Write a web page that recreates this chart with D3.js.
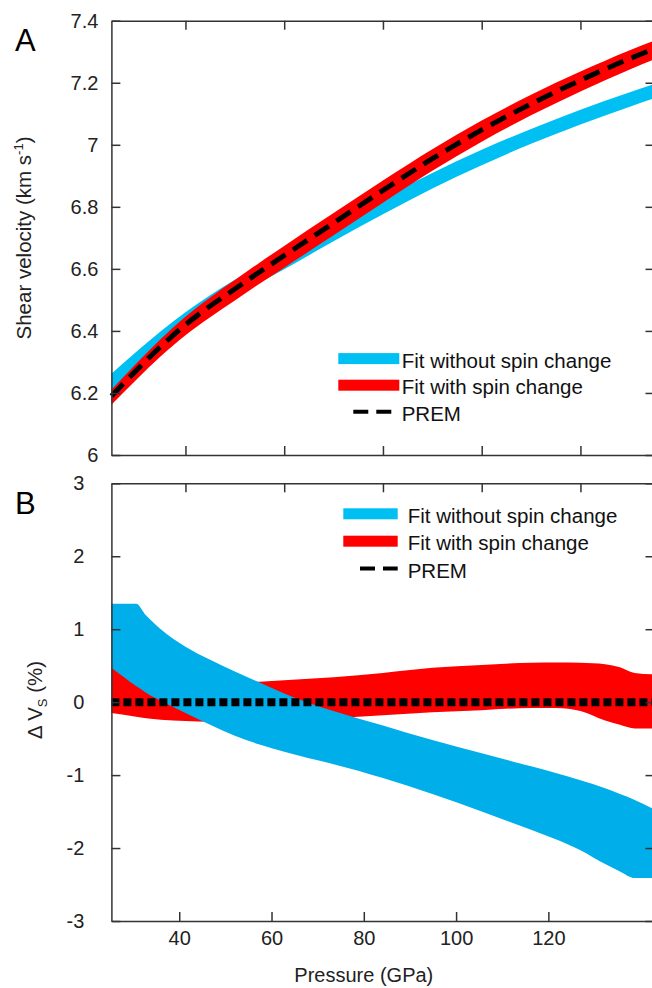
<!DOCTYPE html>
<html>
<head>
<meta charset="utf-8">
<script src="https://cdn.jsdelivr.net/npm/d3@7"></script>
<style>
  body { margin: 0; background: #fff; }
  svg { display: block; font-family: "Liberation Sans", Arial, sans-serif; }
  .eixo path, .eixo line { stroke: #333; stroke-width: 1.5; }
  .eixo text { font-size: 20px; fill: #222; font-family: "Liberation Sans", Arial, sans-serif; }
</style>
</head>
<body>
<svg width="652" height="988"></svg>
<script>
// painel A: velocidade de cisalhamento (km/s) x pressão (GPa)
const pressaoA = [25, 30, 35, 40, 45, 50, 55, 60, 70, 80, 90, 100, 110, 120, 130, 135];
const premA    = [6.19, 6.272, 6.35, 6.42, 6.48, 6.535, 6.59, 6.643, 6.748, 6.853, 6.955, 7.048, 7.132, 7.208, 7.278, 7.31];
const comSpinBaixoA = [6.162, 6.242, 6.318, 6.386, 6.444, 6.498, 6.552, 6.604, 6.708, 6.813, 6.916, 7.010, 7.095, 7.172, 7.243, 7.276];
const comSpinAltoA  = [6.210, 6.294, 6.374, 6.446, 6.508, 6.564, 6.62, 6.674, 6.78, 6.885, 6.986, 7.078, 7.161, 7.236, 7.305, 7.336];
const semSpinBaixoA = [6.20, 6.278, 6.345, 6.406, 6.461, 6.511, 6.556, 6.599, 6.689, 6.776, 6.859, 6.934, 7.003, 7.065, 7.123, 7.15];
const semSpinAltoA  = [6.262, 6.332, 6.399, 6.46, 6.515, 6.565, 6.61, 6.653, 6.741, 6.828, 6.909, 6.984, 7.051, 7.113, 7.169, 7.196];

// painel B: desvio em relação ao PREM (%)
const pressaoB = [25, 30, 32, 35, 40, 45, 50, 55, 60, 65, 70, 80, 90, 100, 110, 115, 120, 125, 128, 131, 135];
const semSpinAltoB  = [1.35, 1.35, 1.19, 1.0, 0.76, 0.58, 0.42, 0.27, 0.12, -0.01, -0.12, -0.32, -0.52, -0.7, -0.88, -0.97, -1.07, -1.18, -1.26, -1.34, -1.47];
const semSpinBaixoB = [0.47, 0.22, 0.13, 0.02, -0.15, -0.31, -0.46, -0.58, -0.68, -0.77, -0.85, -1.04, -1.26, -1.5, -1.75, -1.88, -2.03, -2.22, -2.32, -2.41, -2.41];
const comSpinAltoB  = [0.47, 0.38, 0.35, 0.32, 0.28, 0.27, 0.27, 0.28, 0.3, 0.32, 0.34, 0.4, 0.47, 0.51, 0.54, 0.545, 0.54, 0.52, 0.48, 0.40, 0.38];
const comSpinBaixoB = [-0.15, -0.2, -0.22, -0.24, -0.26, -0.27, -0.27, -0.26, -0.25, -0.24, -0.22, -0.18, -0.14, -0.11, -0.08, -0.08, -0.12, -0.25, -0.31, -0.36, -0.36];
const premB = [0, 0, 0, 0, 0, 0, 0, 0, 0, 0, 0, 0, 0, 0, 0, 0, 0, 0, 0, 0, 0];

const ticksVelA = [6, 6.2, 6.4, 6.6, 6.8, 7, 7.2, 7.4];
const ticksDeltaB = [-3, -2, -1, 0, 1, 2, 3];
const ticksPressao = [40, 60, 80, 100, 120];
const legenda = ['Fit without spin change', 'Fit with spin change', 'PREM'];

const azul = '#00bff3';
const azulB = '#00aeea';
const vermelho = '#ff0000';

const svg = d3.select('svg');
const esq = 111.4, dir = 654.5;

const xEscala = d3.scaleLinear().domain([25, 135]).range([esq, dir]);
// o eixo de baixo do painel B tem marcas com espaçamento diferente
const xEscalaBaixo = d3.scaleLinear().domain([25.3, 143]).range([esq, dir]);

const yA = d3.scaleLinear().domain([6, 7.4]).range([455, 20.7]);
const yB = d3.scaleLinear().domain([-3, 3]).range([921, 483.3]);

const faixa = (x, y) => d3.area()
    .x(d => x(d.p))
    .y0(d => y(d.lo))
    .y1(d => y(d.hi))
    .curve(d3.curveMonotoneX);

const linha = (x, y) => d3.line()
    .x(d => x(d.p))
    .y(d => y(d.v))
    .curve(d3.curveMonotoneX);

const juntaFaixa = (ps, lo, hi) => ps.map((p, i) => ({p: p, lo: lo[i], hi: hi[i]}));
const juntaLinha = (ps, vs) => ps.map((p, i) => ({p: p, v: vs[i]}));

// ---- painel A
const gA = svg.append('g');
gA.append('path')
    .attr('d', faixa(xEscala, yA)(juntaFaixa(pressaoA, semSpinBaixoA, semSpinAltoA)))
    .attr('fill', azul);
gA.append('path')
    .attr('d', faixa(xEscala, yA)(juntaFaixa(pressaoA, comSpinBaixoA, comSpinAltoA)))
    .attr('fill', vermelho);
gA.append('path')
    .attr('d', linha(xEscala, yA)(juntaLinha(pressaoA, premA)))
    .attr('fill', 'none')
    .attr('stroke', '#000')
    .attr('stroke-width', 5)
    .attr('stroke-dasharray', '17,9');

const fmtVel = d => String(+d.toFixed(1));
const fmtDelta = d => String(d);

gA.append('g').attr('class', 'eixo')
    .attr('transform', `translate(${esq},0)`)
    .call(d3.axisLeft(yA).tickValues(ticksVelA).tickFormat(fmtVel).tickSize(-9).tickSizeOuter(0).tickPadding(13));
gA.append('g').attr('class', 'eixo')
    .attr('transform', `translate(${dir},0)`)
    .call(d3.axisRight(yA).tickValues(ticksVelA).tickFormat('').tickSize(-9).tickSizeOuter(0));
gA.append('g').attr('class', 'eixo')
    .attr('transform', `translate(0,${yA(7.4)})`)
    .call(d3.axisTop(xEscala).tickValues(ticksPressao).tickFormat('').tickSize(-9).tickSizeOuter(0));
gA.append('g').attr('class', 'eixo')
    .attr('transform', `translate(0,${yA(6)})`)
    .call(d3.axisBottom(xEscala).tickValues(ticksPressao).tickFormat('').tickSize(-9).tickSizeOuter(0));

// ---- painel B
const gB = svg.append('g');
gB.append('path')
    .attr('d', faixa(xEscala, yB)(juntaFaixa(pressaoB, comSpinBaixoB, comSpinAltoB)))
    .attr('fill', vermelho);
gB.append('path')
    .attr('d', faixa(xEscala, yB)(juntaFaixa(pressaoB, semSpinBaixoB, semSpinAltoB)))
    .attr('fill', azulB);
gB.append('path')
    .attr('d', linha(xEscala, yB)(juntaLinha(pressaoB, premB)))
    .attr('fill', 'none')
    .attr('stroke', '#000')
    .attr('stroke-width', 8)
    .attr('stroke-dasharray', '8,4');

gB.append('g').attr('class', 'eixo')
    .attr('transform', `translate(${esq},0)`)
    .call(d3.axisLeft(yB).tickValues(ticksDeltaB).tickFormat(fmtDelta).tickSize(-9).tickSizeOuter(0).tickPadding(27));
gB.append('g').attr('class', 'eixo')
    .attr('transform', `translate(${dir},0)`)
    .call(d3.axisRight(yB).tickValues(ticksDeltaB).tickFormat('').tickSize(-9).tickSizeOuter(0));
gB.append('g').attr('class', 'eixo')
    .attr('transform', `translate(0,${yB(3)})`)
    .call(d3.axisTop(xEscala).tickValues(ticksPressao).tickFormat('').tickSize(-9).tickSizeOuter(0));
gB.append('g').attr('class', 'eixo')
    .attr('transform', `translate(0,${yB(-3)})`)
    .call(d3.axisBottom(xEscalaBaixo).tickValues(ticksPressao).tickSize(-9).tickSizeOuter(0).tickPadding(10));

// ---- legendas
const desenhaLegenda = (g, xs, x0, x1, xTexto, yCentro, passo) => {
    const cores = [azul, vermelho];
    cores.forEach((c, i) => {
        g.append('rect')
            .attr('x', x0).attr('y', yCentro + i * passo - 5.5)
            .attr('width', x1 - x0).attr('height', 11)
            .attr('fill', c);
    });
    g.append('line')
        .attr('x1', xs).attr('x2', x1)
        .attr('y1', yCentro + 2 * passo).attr('y2', yCentro + 2 * passo)
        .attr('stroke', '#000').attr('stroke-width', 4)
        .attr('stroke-dasharray', '15,8');
    legenda.forEach((t, i) => {
        g.append('text')
            .attr('x', xTexto).attr('y', yCentro + i * passo + 9)
            .attr('font-size', 20.5)
            .attr('fill', '#111')
            .text(t);
    });
};
desenhaLegenda(svg.append('g'), 353.3, 338.3, 399.3, 401.7, 358.6, 26.6);
desenhaLegenda(svg.append('g'), 360, 343.3, 397.7, 407.7, 513.8, 27.4);

// ---- rótulos
svg.append('text').attr('x', 15).attr('y', 51).attr('font-size', 31).text('A');
svg.append('text').attr('x', 15).attr('y', 514).attr('font-size', 31).text('B');

const rotA = svg.append('text')
    .attr('transform', 'translate(31,238) rotate(-90)')
    .attr('text-anchor', 'middle')
    .attr('font-size', 20.5)
    .attr('fill', '#222');
rotA.append('tspan').text('Shear velocity (km s');
rotA.append('tspan').attr('font-size', 13).attr('dy', -8).text('-1');
rotA.append('tspan').attr('dy', 8).text(')');

const rotB = svg.append('text')
    .attr('transform', 'translate(41.7,700) rotate(-90)')
    .attr('text-anchor', 'middle')
    .attr('font-size', 20.5)
    .attr('fill', '#222');
rotB.append('tspan').text('Δ V');
rotB.append('tspan').attr('font-size', 13).attr('dy', 5).text('S');
rotB.append('tspan').attr('dy', -5).text(' (%)');

svg.append('text')
    .attr('x', xEscalaBaixo(80)).attr('y', 982)
    .attr('text-anchor', 'middle')
    .attr('font-size', 20)
    .attr('fill', '#222')
    .text('Pressure (GPa)');
</script>
</body>
</html>
